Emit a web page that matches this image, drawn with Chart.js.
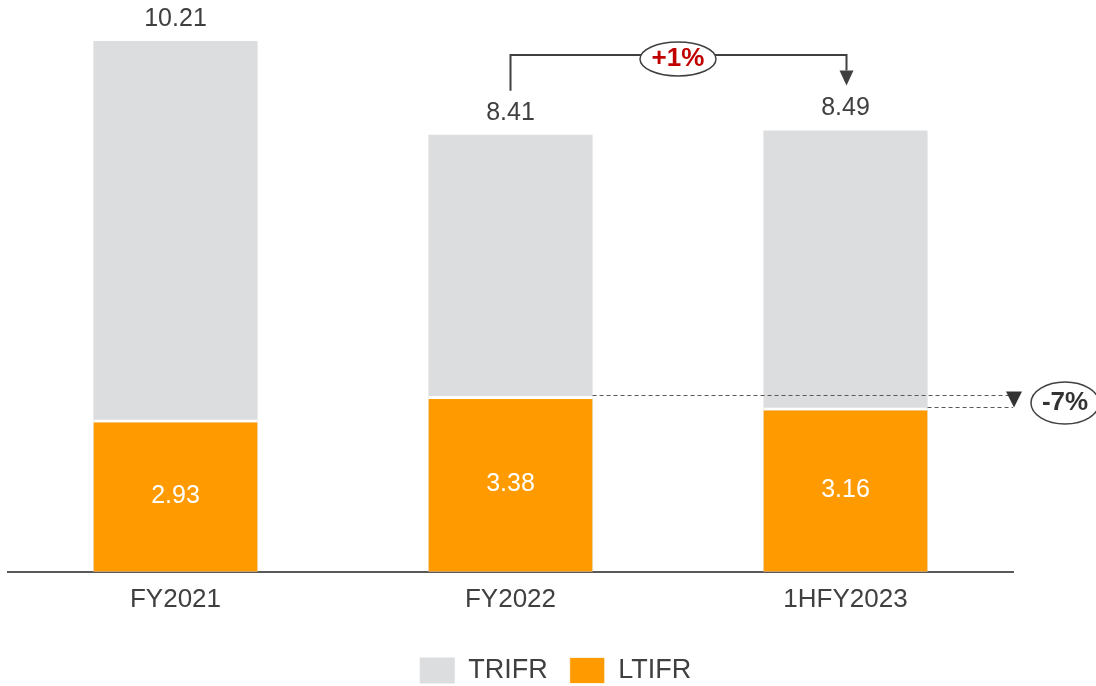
<!DOCTYPE html>
<html>
<head>
<meta charset="utf-8">
<script src="https://cdn.jsdelivr.net/npm/chart.js@4.4.0/dist/chart.umd.min.js"></script>
<style>
  html, body { margin: 0; padding: 0; background: #fff; }
  #wrap { width: 1096px; height: 686px; position: relative; }
</style>
</head>
<body>
<div id="wrap"><canvas id="chart"></canvas></div>
<script>
const categories = ['FY2021', 'FY2022', '1HFY2023'];
const trifr = [10.21, 8.41, 8.49];
const ltifr = [2.93, 3.38, 3.16];
const changeTrifr = '+1%';
const changeLtifr = '-7%';

const GREY = '#dcdddf';
const ORANGE = '#ff9b00';
const TEXT = '#404040';
const FONT = 'Liberation Sans, Arial, sans-serif';

// legend sits a little right of the plot centre
const legendShift = {
  id: 'legendShift',
  afterLayout(chart) {
    const lg = chart.legend;
    lg.left += 45; lg.right += 45;
    lg.top += 8; lg.bottom += 8;
  }
};

// value labels, +1% bracket and -7% dashed comparison
const annotate = {
  id: 'annotate',
  afterDatasetsDraw(chart) {
    const ctx = chart.ctx;
    const y = chart.scales.y;
    const greyMeta = chart.getDatasetMeta(1);
    const orangeMeta = chart.getDatasetMeta(0);
    ctx.save();
    ctx.textAlign = 'center';
    ctx.textBaseline = 'middle';
    ctx.font = '25px ' + FONT;

    greyMeta.data.forEach((bar, i) => {
      ctx.fillStyle = TEXT;
      ctx.fillText(trifr[i].toFixed(2), bar.x, y.getPixelForValue(trifr[i]) - 22);
    });
    orangeMeta.data.forEach((bar, i) => {
      ctx.fillStyle = '#fff';
      const mid = (y.getPixelForValue(ltifr[i]) + y.getPixelForValue(0)) / 2;
      ctx.fillText(ltifr[i].toFixed(2), bar.x, mid);
    });

    // bracket FY2022 -> 1HFY2023
    const b1 = greyMeta.data[1], b2 = greyMeta.data[2];
    const top1 = y.getPixelForValue(trifr[1]);
    const top2 = y.getPixelForValue(trifr[2]);
    const lineY = 55;
    ctx.strokeStyle = TEXT;
    ctx.lineWidth = 2;
    ctx.beginPath();
    ctx.moveTo(b1.x, top1 - 44);
    ctx.lineTo(b1.x, lineY);
    ctx.lineTo(b2.x + 1, lineY);
    ctx.lineTo(b2.x + 1, top2 - 60);
    ctx.stroke();
    ctx.fillStyle = TEXT;
    ctx.beginPath();
    ctx.moveTo(b2.x - 6, top2 - 60);
    ctx.lineTo(b2.x + 8, top2 - 60);
    ctx.lineTo(b2.x + 1, top2 - 45);
    ctx.closePath();
    ctx.fill();

    const cx = (b1.x + b2.x) / 2;
    ctx.beginPath();
    ctx.ellipse(cx, 59, 38, 17, 0, 0, Math.PI * 2);
    ctx.fillStyle = '#fff';
    ctx.fill();
    ctx.lineWidth = 1.5;
    ctx.stroke();
    ctx.font = 'bold 26px ' + FONT;
    ctx.fillStyle = '#c00000';
    ctx.fillText(changeTrifr, cx, 59);

    // dashed LTIFR comparison
    const o1 = orangeMeta.data[1], o2 = orangeMeta.data[2];
    const ly1 = Math.round(y.getPixelForValue(ltifr[1])) - 0.5;
    const ly2 = Math.round(y.getPixelForValue(ltifr[2])) - 0.5;
    const endX = 1013;
    ctx.strokeStyle = '#595959';
    ctx.lineWidth = 1;
    ctx.setLineDash([4, 3]);
    ctx.beginPath();
    ctx.moveTo(o1.x + o1.width / 2, ly1);
    ctx.lineTo(endX, ly1);
    ctx.moveTo(o2.x + o2.width / 2, ly2);
    ctx.lineTo(endX, ly2);
    ctx.stroke();
    ctx.setLineDash([]);
    ctx.fillStyle = '#333';
    ctx.beginPath();
    ctx.moveTo(1006, ly1 - 4);
    ctx.lineTo(1022, ly1 - 4);
    ctx.lineTo(1014, ly2);
    ctx.closePath();
    ctx.fill();

    ctx.beginPath();
    ctx.ellipse(1065, 403, 34, 21, 0, 0, Math.PI * 2);
    ctx.fillStyle = '#fff';
    ctx.fill();
    ctx.strokeStyle = TEXT;
    ctx.lineWidth = 1.5;
    ctx.stroke();
    ctx.fillStyle = '#333';
    ctx.fillText(changeLtifr, 1065, 403);
    ctx.restore();
  }
};

new Chart(document.getElementById('chart'), {
  type: 'bar',
  data: {
    labels: categories,
    datasets: [
      {
        label: 'LTIFR',
        data: ltifr,
        backgroundColor: ORANGE,
        borderColor: '#fff',
        borderWidth: { top: 3, left: 0, right: 0, bottom: 0 },
        borderSkipped: false,
        order: 0
      },
      {
        label: 'TRIFR',
        data: trifr,
        backgroundColor: GREY,
        borderWidth: 0,
        order: 1
      }
    ]
  },
  options: {
    responsive: true,
    maintainAspectRatio: false,
    animation: false,
    layout: { padding: { left: 8, right: 83, top: 0, bottom: 0 } },
    datasets: { bar: { categoryPercentage: 1, barPercentage: 0.49 } },
    scales: {
      x: {
        stacked: true,
        grid: { display: false, drawTicks: false },
        border: { color: '#595959', width: 2 },
        ticks: { color: TEXT, font: { family: FONT, size: 26 }, padding: 12 }
      },
      y: {
        stacked: false,
        min: 0,
        max: 11,
        display: false
      }
    },
    plugins: {
      tooltip: { enabled: false },
      legend: {
        position: 'bottom',
        reverse: true,
        labels: {
          color: TEXT,
          font: { family: FONT, size: 27 },
          boxWidth: 35,
          boxHeight: 26,
          padding: 22
        }
      }
    }
  },
  plugins: [legendShift, annotate]
});
</script>
</body>
</html>
